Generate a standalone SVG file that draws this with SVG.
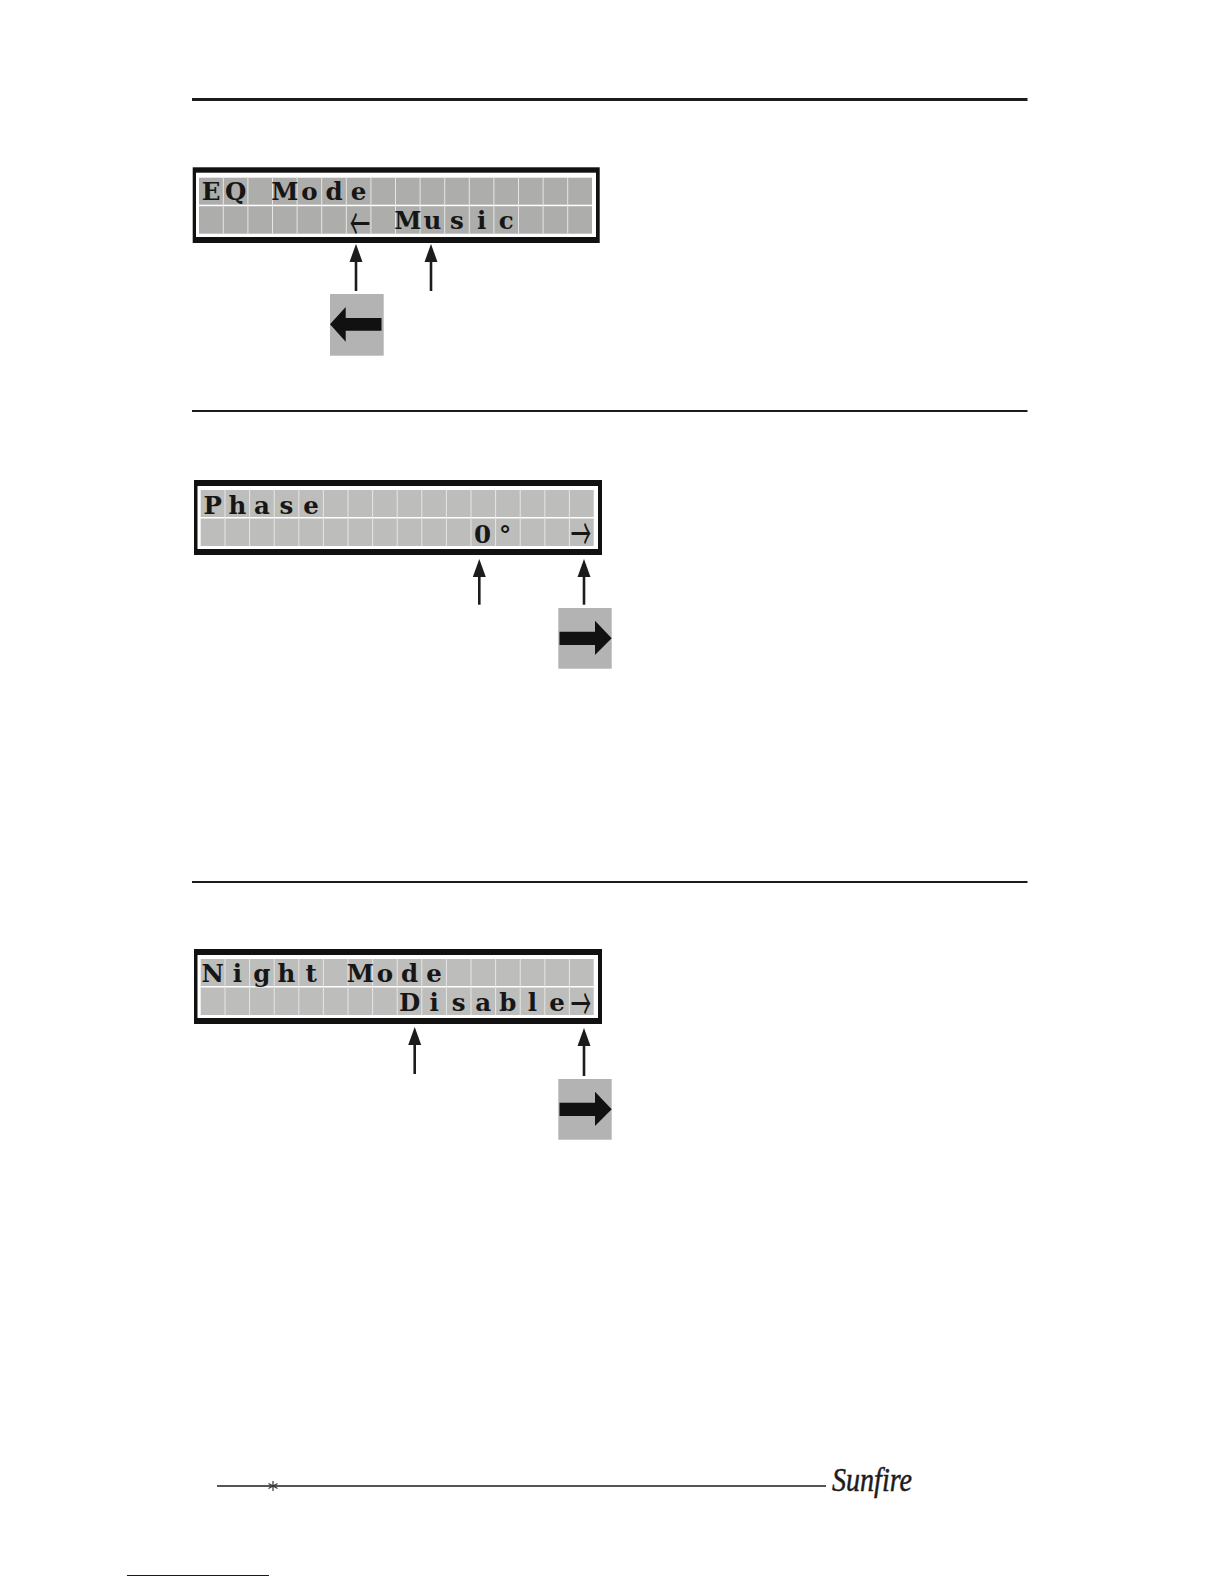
<svg xmlns="http://www.w3.org/2000/svg" xmlns:xlink="http://www.w3.org/1999/xlink" width="1224" height="1584" viewBox="0 0 1224 1584">
<style>
.lcd{font-family:"DejaVu Serif","Liberation Serif",serif;font-weight:bold;font-size:24.5px;fill:#161616;text-anchor:middle}
.gl{font-family:"Noto Sans CJK JP","DejaVu Sans",sans-serif;font-weight:normal;font-size:24px;fill:#161616;text-anchor:middle}
.outer{fill:#111}
.inner{fill:#fff}
.rule{stroke:#1c1c1c}
.conn{stroke:#1c1c1c;stroke-width:2.6;fill:none}
.head{fill:#1c1c1c}
.big{fill:#111}
.box{fill:#b3b3b3}
</style>
<defs>
<g id="grid">
<rect x="0" y="0" width="393" height="27"/>
<rect x="0" y="28.5" width="393" height="27.5"/>
<path d="M24.3 0V56M48.9 0V56M73.5 0V56M98.1 0V56M122.7 0V56M147.3 0V56M171.9 0V56M196.5 0V56M221.1 0V56M245.7 0V56M270.3 0V56M294.9 0V56M319.5 0V56M344.1 0V56M368.7 0V56" stroke="#e6e6e6" stroke-width="1" fill="none"/>
</g>
<polygon id="tip" class="head" points="0,0 6.5,18 -6.5,18"/>
</defs>
<rect width="1224" height="1584" fill="#fff"/>
<g id="rules">
<line class="rule" x1="192" y1="99.5" x2="1027.5" y2="99.5" stroke-width="3"/>
<line class="rule" x1="192" y1="411" x2="1027.5" y2="411" stroke-width="2"/>
<line class="rule" x1="192" y1="882" x2="1027.5" y2="882" stroke-width="2"/>
</g>
<g id="lcd-eq">
<rect class="outer" x="192.7" y="167.3" width="407" height="75.7"/>
<rect class="inner" x="196" y="172.7" width="400" height="64.3"/>
<use href="#grid" x="199" y="177.7" fill="#adadab"/>
<text class="lcd" y="200" x="211 235.6 260.2 284.8 309.4 334 358.6">EQ Mode</text>
<text class="gl" transform="translate(360,240.7) scale(.85,1.9)">←</text>
<text class="lcd" y="229" x="407.8 432.4 457 481.6 506.2">Music</text>
</g>
<g id="lcd-phase">
<rect class="outer" x="194" y="480" width="408" height="75"/>
<rect class="inner" x="197.5" y="486" width="400.5" height="63"/>
<use href="#grid" x="200.7" y="490" fill="#bdbdbb"/>
<text class="lcd" y="513.5" x="212.7 237.3 261.9 286.5 311.1">Phase</text>
<text class="lcd" y="542.7" x="482.5 505">0°</text>
<text class="gl" transform="translate(581,551) scale(.85,1.9)">→</text>
</g>
<g id="lcd-night">
<rect class="outer" x="194" y="949" width="408" height="75"/>
<rect class="inner" x="197.5" y="955" width="400.5" height="63"/>
<use href="#grid" x="200.7" y="959" fill="#bdbdbb"/>
<text class="lcd" y="981.7" x="212.7 237.3 261.9 286.5 311.1 335.7 360.3 384.9 409.5 434.1">Night Mode</text>
<text class="lcd" y="1010.7" x="409.5 434.1 458.7 483.3 507.9 532.5 557.1">Disable</text>
<text class="gl" transform="translate(581,1020.7) scale(.85,1.9)">→</text>
</g>
<g id="key-left">
<rect class="box" x="330" y="294" width="53.7" height="61.7"/>
<polygon class="big" points="330,324.3 345.7,307 345.7,318 381.5,318 381.5,330.7 345.7,330.7 345.7,341.7"/>
</g>
<g id="key-right-1">
<rect class="box" x="558.3" y="608" width="53.4" height="60.7"/>
<polygon class="big" points="611.7,638.3 595,620.7 595,631.7 559.5,631.7 559.5,645 595,645 595,655"/>
</g>
<g id="key-right-2">
<rect class="box" x="558.3" y="1079" width="53.4" height="60.7"/>
<polygon class="big" points="611.7,1109.3 595,1091.7 595,1102.7 559.5,1102.7 559.5,1116 595,1116 595,1126"/>
</g>
<g id="connectors">
<line class="conn" x1="356" y1="260" x2="356" y2="291"/><use href="#tip" x="356" y="244"/>
<line class="conn" x1="431" y1="260" x2="431" y2="291"/><use href="#tip" x="431" y="244"/>
<line class="conn" x1="479.3" y1="575" x2="479.3" y2="604.7"/><use href="#tip" x="479.3" y="559"/>
<line class="conn" x1="584" y1="575" x2="584" y2="604.7"/><use href="#tip" x="584" y="559"/>
<line class="conn" x1="414.7" y1="1043" x2="414.7" y2="1074"/><use href="#tip" x="414.7" y="1027"/>
<line class="conn" x1="584" y1="1044" x2="584" y2="1076"/><use href="#tip" x="584" y="1028"/>
</g>
<g id="footer">
<line x1="217" y1="1486" x2="826" y2="1486" stroke="#1c1c1c" stroke-width="1.3"/>
<path d="M273 1481V1491M268.5 1483.5L277.5 1488.5M268.5 1488.5L277.5 1483.5" stroke="#333" stroke-width="1.2" fill="none"/>
<text x="832" y="1491" font-family="'Liberation Serif',serif" font-style="italic" font-size="34" textLength="80" lengthAdjust="spacingAndGlyphs" fill="#1c1c1c" stroke="#1c1c1c" stroke-width="0.5">Sunfire</text>
<line x1="127" y1="1575.5" x2="269" y2="1575.5" stroke="#0a0a96" stroke-width="1"/>
</g>
</svg>
